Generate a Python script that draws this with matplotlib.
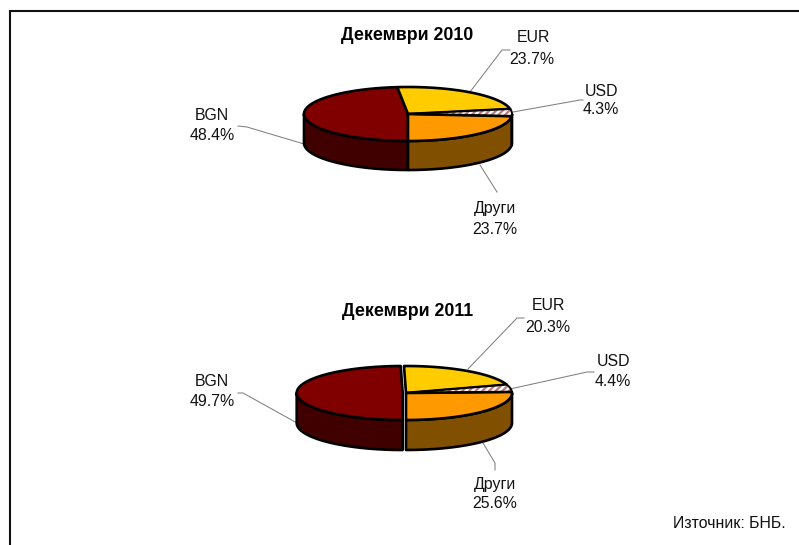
import numpy as np
import matplotlib
matplotlib.use("Agg")
import matplotlib.pyplot as plt
from matplotlib.patches import Polygon

plt.rcParams['font.family'] = ['Liberation Sans', 'DejaVu Sans']
plt.rcParams['hatch.linewidth'] = 1.6

categories = ["BGN", "EUR", "USD", "Други"]
values_2010 = [48.4, 23.7, 4.3, 23.7]
values_2011 = [49.7, 20.3, 4.4, 25.6]
titles = ["Декември 2010", "Декември 2011"]
source = "Източник: БНБ."

top_colors = ["#800000", "#FFCC00", "#FFFFFF", "#FF9900"]
side_colors = ["#400000", "#806600", "#804040", "#805000"]
hatches = [None, None, "/////", None]
hatch_color = "#C07878"
leader_color = "#808080"
edge_lw = 1.9

W, H = 799, 545
fig = plt.figure(figsize=(W / 100, H / 100), dpi=100)
ax = fig.add_axes([0, 0, 1, 1])
ax.set_xlim(0, W)
ax.set_ylim(H, 0)
ax.axis("off")

# frame (top and left only)
ax.plot([9.5, 9.5, W], [H, 11, 11], color="#111111", lw=1.5, solid_joinstyle="miter")


def arc(cx, cy, rx, ry, a0, a1, n=80):
    t = np.radians(np.linspace(a0, a1, n))
    return np.column_stack([cx + rx * np.cos(t), cy - ry * np.sin(t)])


def draw_pie(values, cx, cy, rx, ry, depth, shifts):
    vals = np.asarray(values, dtype=float)
    sweep = vals / vals.sum() * 360
    hi = 270 - np.concatenate([[0], np.cumsum(sweep)[:-1]])
    lo = hi - sweep
    # side walls
    for i in range(len(vals)):
        x0 = cx + shifts[i]
        for w0, w1 in [(180, 360), (-180, 0)]:
            a0, a1 = max(lo[i], w0), min(hi[i], w1)
            if a1 > a0:
                upper = arc(x0, cy, rx, ry, a0, a1)
                lower = arc(x0, cy + depth, rx, ry, a1, a0)
                ax.add_patch(Polygon(np.vstack([upper, lower]), closed=True,
                                     facecolor=side_colors[i], edgecolor="black",
                                     lw=edge_lw, joinstyle="round", zorder=2))
    # top faces
    for i in range(len(vals)):
        x0 = cx + shifts[i]
        pts = np.vstack([[[x0, cy]], arc(x0, cy, rx, ry, hi[i], lo[i])])
        if hatches[i]:
            ax.add_patch(Polygon(pts, closed=True, facecolor=top_colors[i],
                                 edgecolor=hatch_color, hatch=hatches[i], lw=0, zorder=3))
            ax.add_patch(Polygon(pts, closed=True, fill=False, edgecolor="black",
                                 lw=1.4, zorder=3.1))
        else:
            ax.add_patch(Polygon(pts, closed=True, facecolor=top_colors[i],
                                 edgecolor="black", lw=edge_lw, joinstyle="round", zorder=3))


def leader(pts):
    p = np.array(pts)
    ax.plot(p[:, 0], p[:, 1], color=leader_color, lw=0.75, zorder=1)


def label(x, y, s, **kw):
    ax.text(x, y, s, ha="center", va="center", fontsize=11.4, color="#111111", **kw)


def pct(v):
    return f"{v:.1f}%"


# upper pie
draw_pie(values_2010, 408, 114, 104, 27, 29, [0, 0, 0, 0])
ax.text(407, 35, titles[0], ha="center", va="center", fontsize=12.8, fontweight="bold", color="black")
leader([(470, 92), (502, 50), (510, 50)])
leader([(513, 112), (580, 100), (583, 100)])
leader([(304, 144), (247, 127), (238, 126)])
leader([(480, 165), (497, 192)])
pos = [(212, 115, 212, 135), (533, 38, 532, 59), (601, 91, 601, 110), (495, 208, 495, 229)]
for c, v, (a, b, d, e) in zip(categories, values_2010, pos):
    label(a, b, c)
    label(d, e, pct(v))

# lower pie
draw_pie(values_2011, 406, 393, 106, 27, 30, [-3.3, 0, 0, 0])
ax.text(408, 312, titles[1], ha="center", va="center", fontsize=12.8, fontweight="bold", color="black")
leader([(468, 369), (517, 318), (524, 318)])
leader([(510, 389), (587, 372), (594, 372)])
leader([(297, 423), (243, 393), (238, 393)])
leader([(483, 443), (495, 463), (495, 470)])
pos = [(212, 382, 212, 402), (548, 306, 548, 327), (613, 361, 613, 382), (495, 484, 495, 504)]
for c, v, (a, b, d, e) in zip(categories, values_2011, pos):
    label(a, b, c)
    label(d, e, pct(v))

ax.text(786, 523, source, ha="right", va="center", fontsize=11.4, color="#111111")

fig.savefig("out.png", dpi=100)
